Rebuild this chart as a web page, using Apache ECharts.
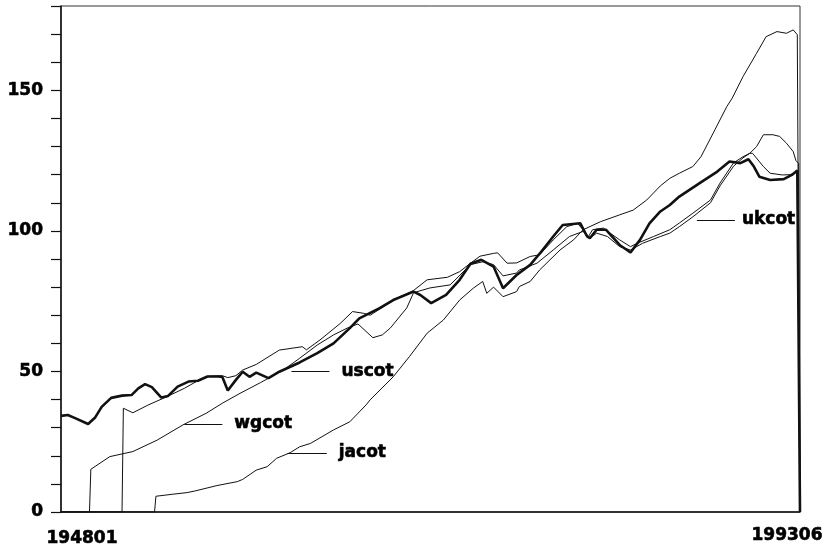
<!DOCTYPE html>
<html>
<head>
<meta charset="utf-8">
<script src="https://cdn.jsdelivr.net/npm/echarts@6/dist/echarts.min.js"></script>
<style>
  html, body { margin: 0; padding: 0; background: #fff; }
  #chart { width: 834px; height: 552px; }
</style>
</head>
<body>
<div id="chart"></div>
<script>
// Monthly index series, 1948:01 - 1993:06 (sampled at turning points, YYYYMM)
const xTickLabels = ['194801', '199306'];
const yTickLabels = ['0', '50', '100', '150'];

const usMonths = ['194801','194806','194811','194909','195002','195007','195102','195110','195205','195206',
  '195210','195303','195308','195403','195408','195503','195511','195606','195701','195709',
  '195712','195804','195810','195903','195908','196001','196010','196106','196209','196310',
  '196410','196510','196605','196708','196806','196909','197002','197010','197109','197207',
  '197303','197311','197408','197503','197601','197611','197707','197804','197811','197912',
  '198005','198007','198012','198107','198205','198301','198308','198403','198411','198506',
  '198601','198704','198805','198902','198910','199004','199008','199012','199108','199206',
  '199212','199304','199305','199306'];
const usValues = [34.2,34.5,33.5,31.3,33.5,37.4,40.6,41.4,41.6,41.0,
  44.0,45.5,44.4,40.7,41.3,44.6,46.4,46.7,48.2,48.2,
  48.0,43.2,47.0,49.9,48.1,49.6,47.6,49.9,53.2,56.5,
  60.0,65.4,68.9,72.5,75.4,78.4,77.2,74.3,77.2,82.6,
  88.3,89.7,87.3,79.6,84.3,87.9,92.5,98.0,102.1,102.7,
  98.0,97.4,100.4,100.4,95.0,92.3,96.8,102.7,106.9,109.2,
  112.2,117.0,121.1,124.7,124.1,125.5,122.9,119.3,118.1,118.4,
  119.9,121.5,121.5,0];

const wgMonths = ['194801','194910','194911','195101','195206','195312','195507','195612','195712','195901',
  '196004','196109','196209','196310','196410','196508','196604','196703','196710','196804',
  '196904','196909','197009','197112','197303','197312','197408','197503','197601','197603',
  '197704','197804','197904','198002','198007','198012','198108','198205','198301','198310',
  '198411','198506','198601','198611','198712','198807','198905','198912','199005','199007',
  '199103','199108','199205','199211','199304','199305','199306'];
const wgValues = [0,0,15.2,19.7,21.5,25.6,31.0,35.1,38.7,42.2,
  46.0,50.5,54.7,59.4,63.0,65.4,66.9,62.0,63.0,65.5,
  72.6,78.0,79.7,80.8,88.0,89.0,88.0,84.0,85.0,86.1,
  88.5,93.2,98.0,99.8,97.4,99.2,98.0,94.4,93.2,95.6,
  98.0,99.2,101.5,105.0,110.0,116.0,123.0,126.0,127.6,127.6,
  122.9,120.5,119.9,120.0,121.1,121.0,0];

const jaMonths = ['194801','195310','195311','195411','195510','195604','195708','195811','195903','196001',
  '196009','196104','196202','196209','196305','196410','196510','196610','196701','196806',
  '196906','197007','197107','197207','197305','197312','197403','197408','197503','197601',
  '197603','197611','197706','197809','197907','198002','198103','198205','198303','198401',
  '198411','198506','198601','198611','198705','198802','198812','198904','198912','199010',
  '199105','199201','199208','199301','199304','199305','199306'];
const jaValues = [0,0,5.6,6.3,6.9,7.5,9.4,10.8,11.6,14.9,
  16.1,19.1,21.1,23.2,24.4,29.2,32.1,38.1,39.9,48.1,
  55.3,63.6,68.3,75.4,79.6,82.0,77.8,80.0,76.6,78.4,
  80.2,82.0,86.1,93.2,96.8,100.4,103.3,105.7,107.4,111.0,
  116.0,118.7,120.5,122.9,126.4,134.8,144.2,147.2,154.9,163.2,
  169.1,170.9,170.3,171.5,169.8,170.5,0];

const ukMonths = ['194801','195110','195111','195206','195305','195407','195508','195607','195702','195712',
  '195804','195810','195903','196001','196106','196211','196302','196312','196503','196512',
  '196608','196701','196801','196811','196909','197007','197110','197207','197303','197310',
  '197408','197411','197506','197601','197611','197706','197804','197902','197910','198002',
  '198006','198009','198105','198110','198205','198301','198306','198406','198506','198601',
  '198611','198712','198807','198905','198912','199005','199010','199103','199110','199203',
  '199208','199301','199303','199305','199306'];
const ukValues = [0,0,36.9,35.3,38.0,41.0,44.0,47.0,48.3,48.5,
  47.8,48.5,50.5,52.5,57.6,58.8,57.7,61.2,67.1,71.3,
  70.7,70.0,73.7,76.6,78.8,82.6,83.5,85.5,88.5,91.0,
  92.0,92.2,88.5,88.6,90.9,91.5,96.8,101.5,102.7,100.4,
  98.0,100.4,101.0,99.2,96.8,94.4,95.6,98.0,100.4,102.8,
  106.3,111.0,117.0,124.2,126.4,127.6,130.0,134.2,134.2,133.6,
  131.2,128.2,125.0,124.0,0];

// Name tags: connector start month, end month, level
const tagNames  = ['uscot', 'wgcot', 'jacot', 'ukcot'];
const tagFrom   = ['196203', '195508', '196112', '198702'];
const tagTo     = ['196407', '195712', '196405', '198906'];
const tagLevel  = [49.9, 31.3, 21.0, 103.9];

const firstMonth = '194801';
const toIndex = s => (parseInt(s.slice(0, 4), 10) - parseInt(firstMonth.slice(0, 4), 10)) * 12
  + parseInt(s.slice(4, 6), 10) - 1;
const lastIndex = toIndex(xTickLabels[1]);

const pairs = (months, values) => months.map((m, i) => [toIndex(m), values[i]]);

const INK = '#111';
const FONT = '"DejaVu Sans", sans-serif';
// heavy lettering: bold face with a thin outline of the same ink
const heavy = { fontFamily: FONT, fontWeight: 'bold', fontSize: 17, color: '#000',
  textBorderColor: '#000', textBorderWidth: 0.6 };

function tagLine(i) {
  return {
    silent: true,
    animation: false,
    symbol: ['none', 'none'],
    lineStyle: { color: INK, width: 1, type: 'solid' },
    label: Object.assign({ show: true, position: 'end', distance: i === 3 ? 7 : 12, formatter: '{b}' }, heavy),
    emphasis: { disabled: true },
    data: [[
      { name: tagNames[i], coord: [toIndex(tagFrom[i]), tagLevel[i]] },
      { coord: [toIndex(tagTo[i]), tagLevel[i]] }
    ]]
  };
}

function lineSeries(name, data, width, tagIdx, z) {
  return {
    name, type: 'line', data, showSymbol: false, symbol: 'none',
    animation: false, silent: true, z,
    lineStyle: { color: INK, width },
    markLine: tagLine(tagIdx)
  };
}

const chart = echarts.init(document.getElementById('chart'), null, { renderer: 'canvas' });
chart.setOption({
  backgroundColor: '#fff',
  animation: false,
  grid: { left: 61, right: 34, top: 6, bottom: 40, show: true, borderColor: '#333', borderWidth: 1 },
  xAxis: {
    type: 'value', min: 0, max: lastIndex, interval: lastIndex,
    axisLine: { show: true, lineStyle: { color: INK, width: 1.5 } },
    axisTick: { show: false },
    splitLine: { show: false },
    axisLabel: {
      margin: 9,
      formatter: v => v === 0 ? '{a|' + xTickLabels[0] + '}' : '{b|' + xTickLabels[1] + '}',
      rich: {
        a: Object.assign({ padding: [9, 0, 0, 42] }, heavy),
        b: Object.assign({ padding: [6, 26, 0, 0] }, heavy)
      }
    }
  },
  yAxis: {
    type: 'value', min: 0, max: 180, interval: 10,
    axisLine: { show: true, lineStyle: { color: INK, width: 1.5 } },
    axisTick: { show: true, inside: false, length: 10, lineStyle: { color: INK, width: 1.2 } },
    splitLine: { show: false },
    axisLabel: Object.assign({
      margin: 18,
      formatter: v => yTickLabels.indexOf(String(v)) >= 0 ? String(v) : ''
    }, heavy)
  },
  series: [
    lineSeries('wgcot', pairs(wgMonths, wgValues), 1, 1, 2),
    lineSeries('jacot', pairs(jaMonths, jaValues), 1, 2, 2),
    lineSeries('ukcot', pairs(ukMonths, ukValues), 1, 3, 2),
    lineSeries('uscot', pairs(usMonths, usValues), 2.6, 0, 3)
  ]
});
</script>
</body>
</html>
